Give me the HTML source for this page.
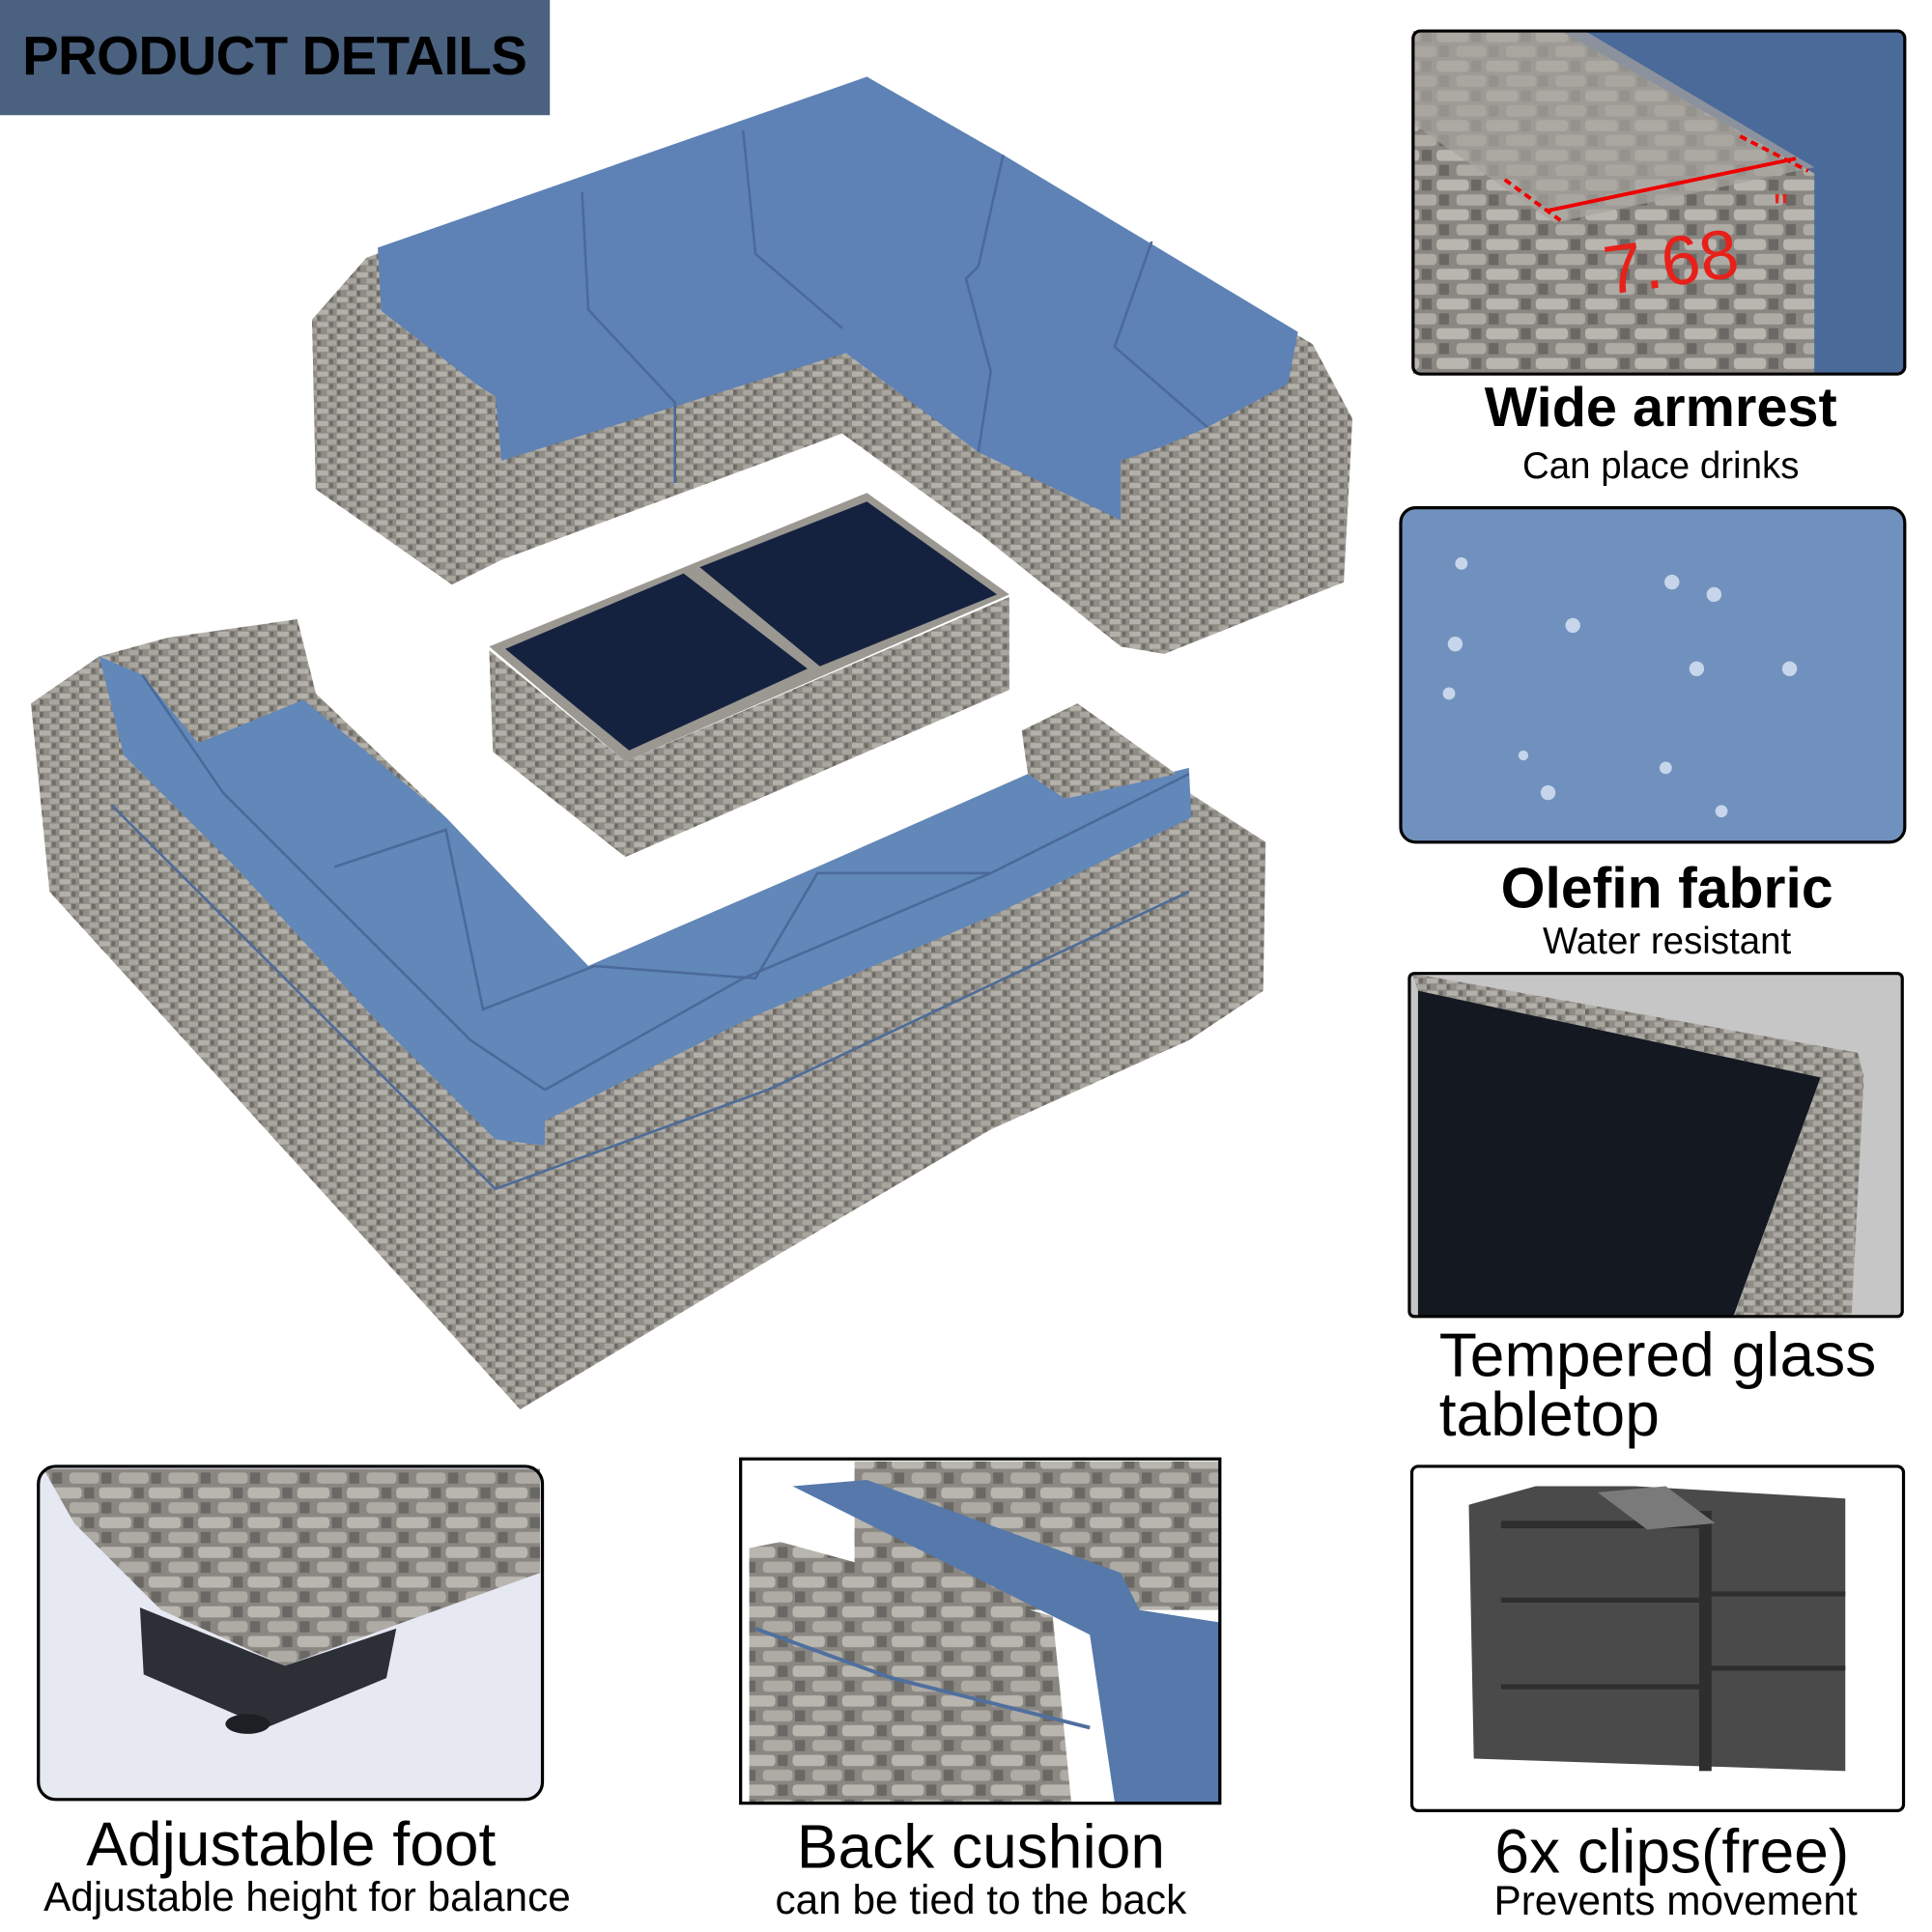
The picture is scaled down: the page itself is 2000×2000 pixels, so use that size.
<!DOCTYPE html>
<html><head><meta charset="utf-8"><style>
html,body{margin:0;padding:0;background:#fff;}
#w{width:2000px;height:2000px;overflow:hidden;position:relative;}
#c{width:1560px;height:1560px;transform:scale(1.28205);transform-origin:0 0;position:absolute;left:0;top:0;font-family:"Liberation Sans",Arial,sans-serif;}
.t{position:absolute;white-space:nowrap;color:#000;line-height:1;}
</style></head><body><div id="w"><div id="c">
<svg width="1560" height="1560" viewBox="0 0 1560 1560" xmlns="http://www.w3.org/2000/svg" style="position:absolute;left:0;top:0">
<defs>
<pattern id="wk" width="16" height="10" patternUnits="userSpaceOnUse">
<rect width="16" height="10" fill="#8f8c86"/>
<rect x="0" y="0" width="9" height="4" fill="#b4b1ab"/>
<rect x="8" y="5" width="8" height="4" fill="#a9a6a0"/>
<rect x="0" y="5" width="3" height="4" fill="#6d6a66"/>
<rect x="10" y="0" width="3" height="4" fill="#6f6c67"/>
</pattern>
<pattern id="wk2" width="40" height="24" patternUnits="userSpaceOnUse">
<rect width="40" height="24" fill="#8a8782"/>
<rect x="0" y="1" width="26" height="9" rx="3" fill="#b9b6b0"/>
<rect x="16" y="13" width="24" height="9" rx="3" fill="#aeaba5"/>
<rect x="28" y="1" width="8" height="9" fill="#6a6864"/>
<rect x="2" y="13" width="8" height="9" fill="#6a6864"/>
</pattern>
</defs>
<rect x="0" y="0" width="444" height="93" fill="#4b6180"/>

<!-- upper sofa -->
<polygon points="296,208 700,62 1060,278 1092,338 1085,470 940,528 905,522 790,430 680,350 405,452 365,472 255,395 252,258" fill="url(#wk)"/>
<polygon points="305,200 700,62 810,125 1048,268 1040,310 975,345 905,375 905,420 790,365 683,285 405,372 400,320 345,285 310,288" fill="#5e82b5"/>
<polyline points="470,155 475,250 545,325 545,390" fill="none" stroke="#4a6a9a" stroke-width="2"/>
<polyline points="600,105 610,205 680,265" fill="none" stroke="#4a6a9a" stroke-width="2"/>
<polyline points="810,125 790,215 780,225 800,300 790,365" fill="none" stroke="#4a6a9a" stroke-width="2"/>
<polyline points="930,195 900,280 975,345" fill="none" stroke="#4a6a9a" stroke-width="2"/>
<polygon points="252,258 300,245 400,322 405,452 365,472 255,395" fill="url(#wk)"/>
<polygon points="905,372 1060,320 1092,338 1085,470 940,528 905,522" fill="url(#wk)"/>
<!-- table -->
<polygon points="395,525 505,615 505,692 398,607" fill="url(#wk)"/>
<polygon points="505,615 815,482 815,557 505,692" fill="url(#wk)"/>
<polygon points="395,522 700,398 815,480 505,615" fill="#9b9892"/>
<polygon points="408,524 552,463 652,540 508,606" fill="#15223f"/>
<polygon points="565,458 700,405 805,480 662,538" fill="#15223f"/>
<!-- lower sofa -->
<polygon points="25,568 80,530 135,515 240,500 255,560 360,660 475,780 660,700 830,625 825,590 870,568 960,640 1022,680 1020,800 960,840 800,912 620,1018 420,1138 40,720" fill="url(#wk)"/>
<polygon points="160,600 245,565 360,660 475,780 660,700 830,625 860,645 960,620 962,660 800,740 610,820 440,905 440,925 400,920 300,820 190,700 100,610 80,530 115,545" fill="#6287b9"/>
<polyline points="115,545 180,640 300,760 380,840 440,880" fill="none" stroke="#4a6a9a" stroke-width="2"/>
<polyline points="440,880 600,790 800,705 960,625" fill="none" stroke="#4a6a9a" stroke-width="2"/>
<polyline points="270,700 360,670 390,815 480,780 610,790 660,705 800,705" fill="none" stroke="#4a6a9a" stroke-width="2"/>
<polygon points="120,525 240,500 255,560 180,585" fill="url(#wk)"/>
<polygon points="825,590 870,568 950,625 860,645" fill="url(#wk)"/>
<polyline points="90,650 400,960 620,880 960,720" fill="none" stroke="#4d6c99" stroke-width="2"/>

<!-- armrest panel -->
<rect x="1141" y="25" width="397" height="277" rx="6" fill="#4a6a9a"/>
<polygon points="1141,25 1260,25 1465,140 1465,302 1141,302" fill="url(#wk2)"/>
<polygon points="1141,25 1280,25 1465,135 1255,180 1141,100" fill="#a7a49e" opacity="0.7"/>
<line x1="1215" y1="145" x2="1260" y2="178" stroke="#e00" stroke-width="3" stroke-dasharray="6,4"/>
<line x1="1250" y1="170" x2="1450" y2="128" stroke="#e00" stroke-width="3"/>
<line x1="1405" y1="110" x2="1460" y2="138" stroke="#e00" stroke-width="3" stroke-dasharray="6,4"/>
<text x="1298" y="238" font-family="Liberation Sans,sans-serif" font-size="56" fill="#e8201a" transform="rotate(-8 1298 238)">7.68</text>
<text x="1432" y="180" font-family="Liberation Sans,sans-serif" font-size="34" fill="#e8201a">"</text>
<rect x="1141" y="25" width="397" height="277" rx="6" fill="none" stroke="#000" stroke-width="2.5"/>

<!-- olefin -->
<rect x="1131" y="410" width="407" height="270" rx="12" fill="#7091bd" stroke="#000" stroke-width="2.5"/>
<g fill="#d6e2f2" opacity="0.85">
<circle cx="1180" cy="455" r="5"/><circle cx="1350" cy="470" r="6"/><circle cx="1384" cy="480" r="6"/><circle cx="1270" cy="505" r="6"/><circle cx="1175" cy="520" r="6"/><circle cx="1370" cy="540" r="6"/><circle cx="1445" cy="540" r="6"/><circle cx="1170" cy="560" r="5"/><circle cx="1250" cy="640" r="6"/><circle cx="1390" cy="655" r="5"/><circle cx="1345" cy="620" r="5"/><circle cx="1230" cy="610" r="4"/></g>

<!-- glass -->
<rect x="1138" y="786" width="398" height="277" fill="#c6c6c6"/>
<polygon points="1140,786 1500,850 1505,870 1495,1063 1400,1063 1470,870 1145,800" fill="url(#wk)"/>
<polygon points="1145,800 1470,870 1400,1062 1145,1062" fill="#141820"/>
<rect x="1138" y="786" width="398" height="277" rx="4" fill="none" stroke="#000" stroke-width="2.5"/>

<!-- clips -->
<rect x="1140" y="1184" width="397" height="278" rx="5" fill="#fff" stroke="#000" stroke-width="2.5"/>
<polygon points="1186,1215 1240,1200 1320,1200 1490,1210 1490,1430 1190,1420" fill="#4a4a4a"/>
<g fill="#2e2e2e">
<rect x="1212" y="1228" width="160" height="6"/>
<rect x="1212" y="1290" width="165" height="4"/>
<rect x="1212" y="1360" width="165" height="4"/>
<rect x="1372" y="1220" width="10" height="210"/>
<rect x="1372" y="1285" width="118" height="4"/>
<rect x="1372" y="1345" width="118" height="4"/>
</g>
<polygon points="1290,1205 1345,1200 1385,1230 1330,1235" fill="#7a7a7a"/>

<!-- foot -->
<rect x="31" y="1184" width="407" height="269" rx="14" fill="#e6e8f2"/>
<polygon points="35,1186 436,1186 436,1270 320,1312 230,1345 130,1300 60,1230" fill="url(#wk2)"/>
<polygon points="113,1298 230,1345 320,1315 312,1355 215,1395 116,1352" fill="#2d2f36"/>
<ellipse cx="200" cy="1392" rx="18" ry="8" fill="#1e1f24"/>
<rect x="31" y="1184" width="407" height="269" rx="14" fill="none" stroke="#000" stroke-width="2.5"/>

<!-- back cushion -->
<rect x="598" y="1178" width="387" height="278" fill="#fff"/>
<rect x="690" y="1180" width="295" height="120" fill="url(#wk2)"/>
<polygon points="640,1200 700,1195 905,1270 920,1300 985,1310 985,1455 900,1455 880,1320" fill="#5678aa"/>
<polygon points="605,1250 630,1245 850,1305 865,1455 605,1455" fill="url(#wk2)"/>
<polyline points="610,1315 720,1355 880,1395" fill="none" stroke="#4f6f9e" stroke-width="3"/>
<rect x="598" y="1178" width="387" height="278" fill="none" stroke="#000" stroke-width="2.5"/>
</svg>

<div class="t" style="left:18px;top:24px;font-size:44px;font-weight:bold;letter-spacing:-0.5px;">PRODUCT DETAILS</div>

<div class="t" style="left:1141px;width:400px;text-align:center;top:306px;font-size:45px;font-weight:bold;">Wide armrest</div>
<div class="t" style="left:1141px;width:400px;text-align:center;top:362px;font-size:30px;">Can place drinks</div>
<div class="t" style="left:1146px;width:400px;text-align:center;top:694px;font-size:46px;font-weight:bold;">Olefin fabric</div>
<div class="t" style="left:1146px;width:400px;text-align:center;top:746px;font-size:30px;">Water resistant</div>
<div class="t" style="left:1162px;top:1069px;font-size:50px;">Tempered glass</div>
<div class="t" style="left:1162px;top:1117px;font-size:50px;">tabletop</div>
<div class="t" style="left:1140px;width:420px;text-align:center;top:1470px;font-size:50px;">6x clips(free)</div>
<div class="t" style="left:1140px;width:426px;text-align:center;top:1518px;font-size:33px;">Prevents movement</div>
<div class="t" style="left:0;width:470px;text-align:center;top:1464px;font-size:50px;">Adjustable foot</div>
<div class="t" style="left:0;width:496px;text-align:center;top:1515px;font-size:33px;">Adjustable height for balance</div>
<div class="t" style="left:592px;width:400px;text-align:center;top:1466px;font-size:50px;">Back cushion</div>
<div class="t" style="left:592px;width:400px;text-align:center;top:1517px;font-size:33px;">can be tied to the back</div>
</div></div></body></html>
